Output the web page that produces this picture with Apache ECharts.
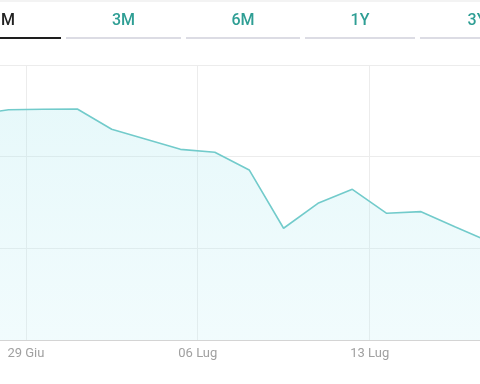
<!DOCTYPE html>
<html>
<head>
<meta charset="utf-8">
<script src="https://cdn.jsdelivr.net/npm/echarts@6/dist/echarts.min.js"></script>
<style>
html,body{margin:0;padding:0;background:#fff;}
#chart{width:480px;height:384px;}
</style>
</head>
<body>
<div id="chart"></div>
<script>
var tabLabels = ['1M', '3M', '6M', '1Y', '3Y'];
var selectedTab = 0;
var dates = ['25 Giu', '26 Giu', '29 Giu', '30 Giu', '01 Lug', '02 Lug', '03 Lug', '06 Lug', '07 Lug', '08 Lug', '09 Lug', '10 Lug', '13 Lug', '14 Lug', '15 Lug', '16 Lug'];
var values = [24.55, 25.12, 25.17, 25.20, 22.99, 21.89, 20.80, 20.48, 18.55, 12.19, 14.91, 16.44, 13.82, 14.00, 12.32, 10.70];
var tickLabels = ['29 Giu', '06 Lug', '13 Lug'];

var chart = echarts.init(document.getElementById('chart'), null, {renderer: 'canvas'});

var tabEdges = [[-54, 61], [66, 181], [186, 300], [305, 415], [420, 534]];
var graphics = [];
graphics.push({type: 'rect', shape: {x: 0, y: 0, width: 480, height: 2}, style: {fill: '#f3f3f3'}, z: 10});
tabLabels.forEach(function (t, i) {
  var e = tabEdges[i];
  var cx = (e[0] + e[1]) / 2;
  var sel = i === selectedTab;
  graphics.push({
    type: 'rect',
    shape: {x: e[0], y: 37, width: e[1] - e[0], height: 2},
    style: {fill: sel ? '#1e1e1e' : '#dcdce4'},
    z: 10
  });
  graphics.push({
    type: 'text',
    x: cx, y: 21,
    style: {
      text: t, align: 'center', verticalAlign: 'middle',
      font: '500 16px Roboto', fill: sel ? '#222222' : '#2e9e94'
    },
    z: 10
  });
});

chart.setOption({
  animation: false,
  backgroundColor: '#ffffff',
  graphic: graphics,
  grid: {left: -43, right: -27, top: 65, bottom: 44, outerBoundsMode: 'none', containLabel: false},
  xAxis: {
    type: 'category',
    data: dates,
    boundaryGap: true,
    axisLine: {show: true, lineStyle: {color: '#d4d4d4', width: 1}},
    axisTick: {show: false},
    splitLine: {
      show: true,
      interval: function (i, v) { return tickLabels.indexOf(v) >= 0; },
      lineStyle: {color: '#ececec', width: 1}
    },
    axisLabel: {
      show: true,
      interval: function (i, v) { return tickLabels.indexOf(v) >= 0; },
      color: '#a0a0a0',
      fontFamily: 'Roboto',
      fontSize: 13,
      margin: 7,
      padding: [0, 34, 0, 0]
    }
  },
  yAxis: {
    type: 'value',
    min: 0, max: 30, interval: 10,
    axisLine: {show: false},
    axisTick: {show: false},
    axisLabel: {show: false},
    splitLine: {show: true, lineStyle: {color: '#ececec', width: 1}}
  },
  series: [{
    type: 'line',
    data: values,
    symbol: 'none',
    smooth: false,
    lineStyle: {color: '#72cbcb', width: 1.6},
    areaStyle: {
      color: {
        type: 'linear', x: 0, y: 0, x2: 0, y2: 1,
        colorStops: [
          {offset: 0, color: 'rgba(165,230,237,0.38)'},
          {offset: 1, color: 'rgba(190,240,246,0.3)'}
        ]
      }
    }
  }]
});
</script>
</body>
</html>
